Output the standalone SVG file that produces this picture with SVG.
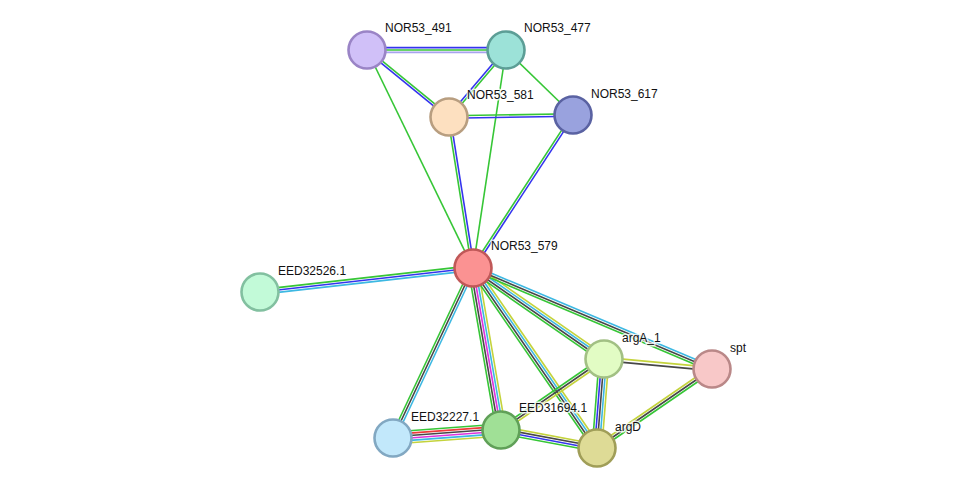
<svg xmlns="http://www.w3.org/2000/svg" width="976" height="494" viewBox="0 0 976 494">
<style>
line{stroke-width:1.6;fill:none}
.g{stroke:#36c636}.b{stroke:#3434ee}.l{stroke:#a8a4ee}.c{stroke:#3cb8e2}.d{stroke:#474747}.m{stroke:#dd33dd}.y{stroke:#c4d33c}.r{stroke:#ee3a3a}
circle{stroke-width:2.6}
text{font-family:"Liberation Sans",Arial,sans-serif;font-size:12px;fill:#111;stroke:#fff;stroke-width:3;stroke-opacity:0.8;paint-order:stroke;stroke-linejoin:round}
</style>
<rect width="976" height="494" fill="#fff"/>
<g id="edges">
<line class="b" x1="367" y1="47.6" x2="506" y2="47.6"/>
<line class="g" x1="367" y1="50" x2="506" y2="50"/>
<line class="l" x1="367" y1="52.4" x2="506" y2="52.4"/>
<line class="g" x1="367.76" y1="49.07" x2="449.76" y2="116.07"/>
<line class="b" x1="366.24" y1="50.93" x2="448.24" y2="117.93"/>
<line class="g" x1="367" y1="50" x2="473" y2="268"/>
<line class="b" x1="505.09" y1="49.22" x2="448.09" y2="116.22"/>
<line class="g" x1="506.91" y1="50.78" x2="449.91" y2="117.78"/>
<line class="g" x1="506" y1="50" x2="573" y2="115"/>
<line class="g" x1="506" y1="50" x2="473" y2="268"/>
<line class="g" x1="449" y1="115.8" x2="573" y2="113.8"/>
<line class="b" x1="449" y1="118.2" x2="573" y2="116.2"/>
<line class="g" x1="447.81" y1="117.19" x2="471.81" y2="268.19"/>
<line class="b" x1="450.19" y1="116.81" x2="474.19" y2="267.81"/>
<line class="g" x1="572" y1="114.34" x2="472" y2="267.34"/>
<line class="b" x1="574" y1="115.66" x2="474" y2="268.66"/>
<line class="g" x1="472.73" y1="265.61" x2="259.73" y2="289.61"/>
<line class="b" x1="473" y1="268" x2="260" y2="292"/>
<line class="c" x1="473.27" y1="270.39" x2="260.27" y2="294.39"/>
<line class="g" x1="470.83" y1="266.98" x2="390.83" y2="436.98"/>
<line class="d" x1="473" y1="268" x2="393" y2="438"/>
<line class="c" x1="475.17" y1="269.02" x2="395.17" y2="439.02"/>
<line class="g" x1="468.27" y1="268.82" x2="496.27" y2="430.82"/>
<line class="d" x1="470.64" y1="268.41" x2="498.64" y2="430.41"/>
<line class="m" x1="473" y1="268" x2="501" y2="430"/>
<line class="c" x1="475.36" y1="267.59" x2="503.36" y2="429.59"/>
<line class="y" x1="477.73" y1="267.18" x2="505.73" y2="429.18"/>
<line class="g" x1="470.04" y1="270.04" x2="594.04" y2="450.04"/>
<line class="d" x1="472.01" y1="268.68" x2="596.01" y2="448.68"/>
<line class="c" x1="473.99" y1="267.32" x2="597.99" y2="447.32"/>
<line class="y" x1="475.96" y1="265.96" x2="599.96" y2="445.96"/>
<line class="g" x1="470.95" y1="270.96" x2="601.95" y2="361.96"/>
<line class="d" x1="472.32" y1="268.99" x2="603.32" y2="359.99"/>
<line class="c" x1="473.68" y1="267.01" x2="604.68" y2="358.01"/>
<line class="y" x1="475.05" y1="265.04" x2="606.05" y2="356.04"/>
<line class="g" x1="472.07" y1="270.21" x2="711.07" y2="371.21"/>
<line class="d" x1="473" y1="268" x2="712" y2="369"/>
<line class="c" x1="473.93" y1="265.79" x2="712.93" y2="366.79"/>
<line class="y" x1="604.15" y1="357.41" x2="712.15" y2="367.41"/>
<line class="d" x1="603.85" y1="360.59" x2="711.85" y2="370.59"/>
<line class="g" x1="599.21" y1="358.62" x2="592.21" y2="447.62"/>
<line class="b" x1="601.61" y1="358.81" x2="594.61" y2="447.81"/>
<line class="d" x1="604" y1="359" x2="597" y2="448"/>
<line class="c" x1="606.39" y1="359.19" x2="599.39" y2="448.19"/>
<line class="y" x1="608.79" y1="359.38" x2="601.79" y2="448.38"/>
<line class="g" x1="602.64" y1="357.02" x2="499.64" y2="428.02"/>
<line class="d" x1="604" y1="359" x2="501" y2="430"/>
<line class="y" x1="605.36" y1="360.98" x2="502.36" y2="431.98"/>
<line class="y" x1="710.64" y1="367.02" x2="595.64" y2="446.02"/>
<line class="d" x1="712" y1="369" x2="597" y2="448"/>
<line class="g" x1="713.36" y1="370.98" x2="598.36" y2="449.98"/>
<line class="y" x1="501.66" y1="426.46" x2="597.66" y2="444.46"/>
<line class="d" x1="501.22" y1="428.82" x2="597.22" y2="446.82"/>
<line class="b" x1="500.78" y1="431.18" x2="596.78" y2="449.18"/>
<line class="g" x1="500.34" y1="433.54" x2="596.34" y2="451.54"/>
<line class="g" x1="392.56" y1="432.02" x2="500.56" y2="424.02"/>
<line class="r" x1="392.73" y1="434.41" x2="500.73" y2="426.41"/>
<line class="d" x1="392.91" y1="436.8" x2="500.91" y2="428.8"/>
<line class="m" x1="393.09" y1="439.2" x2="501.09" y2="431.2"/>
<line class="c" x1="393.27" y1="441.59" x2="501.27" y2="433.59"/>
<line class="y" x1="393.44" y1="443.98" x2="501.44" y2="435.98"/>
</g>
<g id="NOR53_491"><circle cx="367" cy="50" r="18.5" fill="#d0c0f8" stroke="#9a84c6"/><text x="385" y="32">NOR53_491</text></g>
<g id="NOR53_477"><circle cx="506" cy="50" r="18.5" fill="#9ce2d8" stroke="#5c9e96"/><text x="524" y="32">NOR53_477</text></g>
<g id="NOR53_581"><circle cx="449" cy="117" r="18.5" fill="#fde0c0" stroke="#b89e80"/><text x="467" y="99">NOR53_581</text></g>
<g id="NOR53_617"><circle cx="573" cy="115" r="18.5" fill="#99a2de" stroke="#5a62a2"/><text x="591" y="98">NOR53_617</text></g>
<g id="NOR53_579"><circle cx="473" cy="268" r="18.5" fill="#fb9292" stroke="#c05858"/><text x="491" y="250">NOR53_579</text></g>
<g id="EED32526.1"><circle cx="260" cy="292" r="18.5" fill="#c2fad8" stroke="#82c0a0"/><text x="278" y="275">EED32526.1</text></g>
<g id="argA_1"><circle cx="604" cy="359" r="18.5" fill="#e2fcc4" stroke="#a2c084"/><text x="622" y="342">argA_1</text></g>
<g id="spt"><circle cx="712" cy="369" r="18.5" fill="#f8c8c8" stroke="#ba8888"/><text x="730" y="352">spt</text></g>
<g id="EED32227.1"><circle cx="393" cy="438" r="18.5" fill="#c2e8fb" stroke="#82a8c2"/><text x="411" y="421">EED32227.1</text></g>
<g id="EED31694.1"><circle cx="501" cy="430" r="18.5" fill="#a0e096" stroke="#60a058"/><text x="519" y="412">EED31694.1</text></g>
<g id="argD"><circle cx="597" cy="448" r="18.5" fill="#dedb96" stroke="#a09e58"/><text x="615" y="431">argD</text></g>
</svg>
